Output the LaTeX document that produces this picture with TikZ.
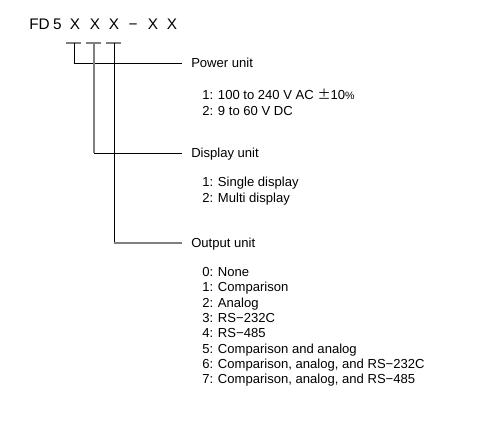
\documentclass[tikz,border=0pt]{standalone}
\usepackage{fontspec}
\setmainfont{Liberation Sans}
\newfontfamily\cjk{Noto Sans CJK JP}
\begin{document}
\begin{tikzpicture}[x=0.75pt,y=-0.75pt,
  txt/.style={inner sep=0pt, anchor=base west, font=\fontsize{9.8pt}{11pt}\selectfont},
  code/.style={inner sep=0pt, anchor=base, font=\fontsize{11.5pt}{12pt}\selectfont},
  blk/.style={line width=0.6pt, black},
  gry/.style={line width=0.9pt, black!50}]
\useasboundingbox (0,0) rectangle (497,421);
% model code
\node[code, anchor=base east] (fd) at (50,29.5) {FD};
\node[code] (c5) at (57.5,29.5) {5};
\node[code] (x1) at (75,29.5) {X};
\node[code] (x2) at (95,29.5) {X};
\node[code] (x3) at (114,29.5) {X};
\node[code] (dash) at (133,29.5) {−};
\node[code] (x4) at (153,29.5) {X};
\node[code] (x5) at (172,29.5) {X};
% underlines
\coordinate (u1a) at (66,43); \coordinate (u1b) at (81,43);
\coordinate (u2a) at (86,43); \coordinate (u2b) at (101,43);
\coordinate (u3a) at (106,43); \coordinate (u3b) at (121,43);
\draw[gry] (u1a) -- (u1b);
\draw[gry] (u2a) -- (u2b);
\draw[gry] (u3a) -- (u3b);
\coordinate (t1) at (74,43);
\coordinate (t2) at (94,43);
\coordinate (t3) at (114,43);
% headings
\node[txt] (ph) at (191,67.5) {Power unit};
\node[txt] (dh) at (191,157.5) {Display unit};
\node[txt] (oh) at (191,247.5) {Output unit};
\coordinate (e1) at (182,63);
\coordinate (e2) at (182,153);
\coordinate (e3) at (182,243);
% connectors
\draw[blk] (t1) |- (e1);
\draw[gry] (t2) -- (t2 |- e2);
\draw[blk] (t2 |- e2) -- (e2);
\draw[blk] (t3) -- (t3 |- e3);
\draw[gry] (t3 |- e3) -- (e3);
% power items
\node[txt] (p1) at (202,99.5) {1: 100 to 240 V AC {\cjk ±}10{\fontsize{8pt}{9pt}\selectfont\%}};
\node[txt] (p2) at (202,115.5) {2: 9 to 60 V DC};
% display items
\node[txt] (d1) at (202,186.5) {1: Single display};
\node[txt] (d2) at (202,202.5) {2: Multi display};
% output items
\node[txt] (o0) at (202,276.5) {0: None};
\node[txt] (o1) at (202,291.8) {1: Comparison};
\node[txt] (o2) at (202,307.1) {2: Analog};
\node[txt] (o3) at (202,322.4) {3: RS−232C};
\node[txt] (o4) at (202,337.7) {4: RS−485};
\node[txt] (o5) at (202,353.0) {5: Comparison and analog};
\node[txt] (o6) at (202,368.3) {6: Comparison, analog, and RS−232C};
\node[txt] (o7) at (202,383.6) {7: Comparison, analog, and RS−485};
\end{tikzpicture}
\end{document}
